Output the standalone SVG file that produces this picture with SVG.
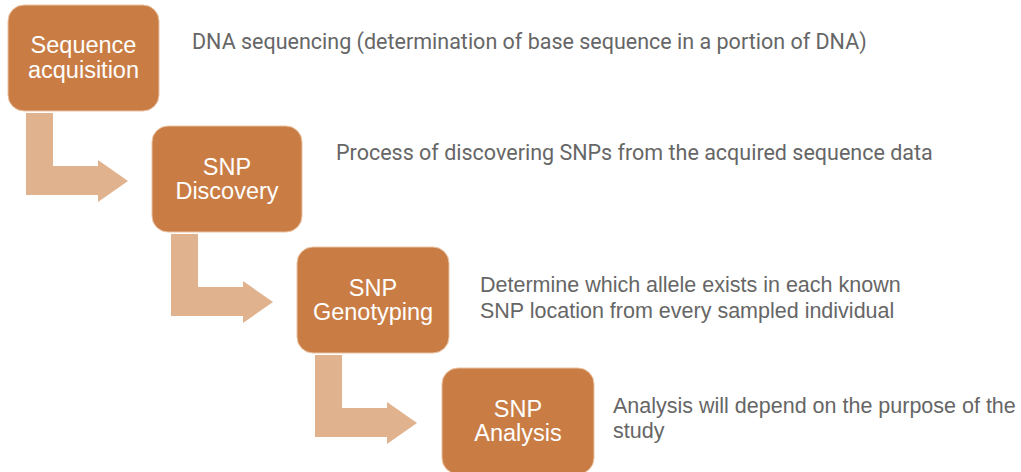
<svg xmlns="http://www.w3.org/2000/svg" width="1021" height="472" viewBox="0 0 1021 472">
  <style>
    .box { fill: #C97D45; stroke: #E9C3A4; stroke-width: 1; }
    .step { fill: #FFFFFF; font-family: "Liberation Sans", Arial, sans-serif; font-size: 23.5px; text-anchor: middle; }
    .bend { fill: #E0B38E; }
    .desc { fill: #666666; font-size: 21.5px; }
    .roboto { font-family: Roboto, "Liberation Sans", sans-serif; }
    .arial { font-family: "Liberation Sans", Arial, sans-serif; }
  </style>
  <defs>
    <!-- bent arrow: down from a box, then right toward the next one -->
    <path id="bent" d="M0,0 H27 V53 H72 V47 L102,68 L72,89 V82 H0 Z"/>
  </defs>
  <rect width="1021" height="472" fill="#FFFFFF"/>

  <g id="connectors">
    <use href="#bent" class="bend" x="26" y="113"/>
    <use href="#bent" class="bend" x="171" y="234"/>
    <use href="#bent" class="bend" x="315" y="355"/>
  </g>

  <g id="node-sequence-acquisition">
    <rect class="box" x="8" y="5" width="151" height="106" rx="16"/>
    <text class="step" x="83.5" y="53">Sequence</text>
    <text class="step" x="83.5" y="78">acquisition</text>
  </g>
  <g id="node-snp-discovery">
    <rect class="box" x="152" y="126" width="150" height="106" rx="16"/>
    <text class="step" x="227" y="175">SNP</text>
    <text class="step" x="227" y="199">Discovery</text>
  </g>
  <g id="node-snp-genotyping">
    <rect class="box" x="297" y="247" width="152" height="106" rx="16"/>
    <text class="step" x="373" y="296">SNP</text>
    <text class="step" x="373" y="320">Genotyping</text>
  </g>
  <g id="node-snp-analysis">
    <rect class="box" x="442" y="368" width="152" height="106" rx="16"/>
    <text class="step" x="518" y="417">SNP</text>
    <text class="step" x="518" y="441">Analysis</text>
  </g>

  <g id="descriptions">
    <text class="desc roboto" x="192" y="49">DNA sequencing (determination of base sequence in a portion of DNA)</text>
    <text class="desc roboto" x="336" y="160">Process of discovering SNPs from the acquired sequence data</text>
    <text class="desc arial" x="480" y="292">Determine which allele exists in each known</text>
    <text class="desc arial" x="480" y="318">SNP location from every sampled individual</text>
    <text class="desc arial" x="613" y="413">Analysis will depend on the purpose of the</text>
    <text class="desc arial" x="613" y="438">study</text>
  </g>
</svg>
